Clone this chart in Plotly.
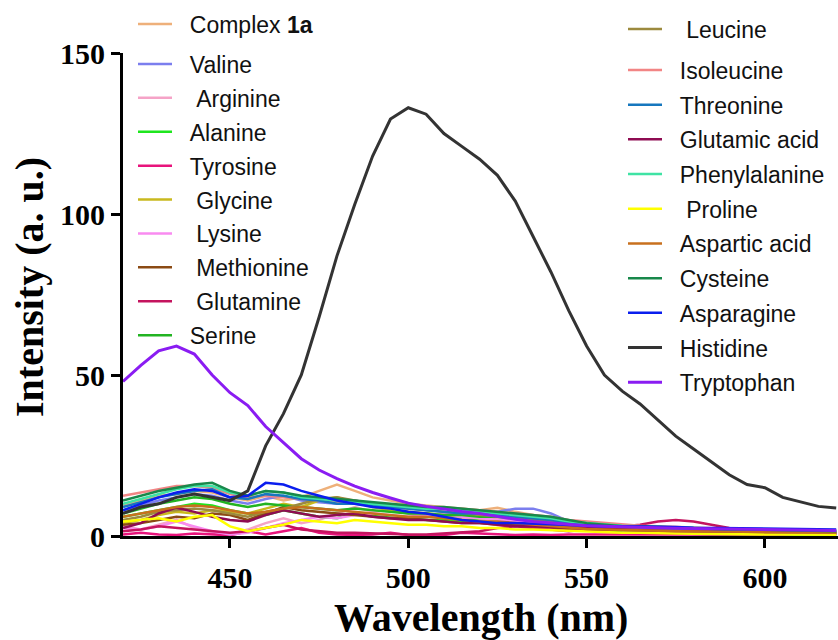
import plotly.graph_objects as go

wavelength = [420, 425, 430, 435, 440, 445, 450, 455, 460, 465, 470, 475, 480, 485, 490, 495, 500,
              505, 510, 515, 520, 525, 530, 535, 540, 545, 550, 555, 560, 565, 570, 575, 580, 585,
              590, 595, 600, 605, 610, 615, 620]

complex_1a = [9.5, 11, 12.5, 13, 14, 13.5, 12, 11, 12.5, 11, 12, 14, 16, 14, 12, 11, 10, 9.5, 9, 8.5, 8,
              8.8, 7.5, 6.5, 5.5, 4.5, 3.5, 3, 2.8, 2.5, 2.6, 2.4, 2, 1.8, 1.6, 1.5, 1.5, 1.4, 1.3, 1.2, 1.2]
valine = [8, 9.5, 11, 12, 13, 12.5, 11, 10, 11.5, 12.5, 11, 10.5, 10, 11, 10, 9.5, 9, 8.5, 8.5, 8, 8,
          7.5, 8.5, 8.5, 7, 4.5, 3.5, 3, 3, 2.5, 2.5, 2.5, 2.2, 2, 1.8, 1.7, 1.6, 1.5, 1.5, 1.4, 1.4]
arginine = [3, 2, 3.5, 5, 2.5, 1, 0.5, 2, 4, 5.5, 4, 5, 7, 9, 7.5, 8, 7, 6.5, 6, 5.5, 5, 4.5, 4, 3.5,
            3, 2.5, 2.2, 2, 1.8, 1.5, 1.5, 1.2, 1, 0.8, 0.8, 0.6, 0.5, 0.5, 0.4, 0.4, 0.3]
alanine = [6, 7, 8, 9, 10, 9.5, 8, 7, 6.5, 8, 7, 6, 5.5, 7, 6.5, 6, 5.5, 5, 5, 4.5, 5.5, 6, 5.5, 5.5,
           5, 4, 2.5, 1.5, 1, 0.8, 1, 0.8, 0.5, 0.5, 0.4, 0.4, 0.3, 0.3, 0.3, 0.3, 0.3]
tyrosine = [0.5, 1, 0.5, 0.3, 0.8, 0.5, 0.2, 1.5, 0.5, 1.5, 2.5, 1, 0.5, 0.3, 0.5, 1, 0.3, 0.2, 0.3, 1,
            0.8, 0.5, 0.3, 0.5, 0.3, 0.5, 0.5, 0.3, 0.5, 0.5, 0.3, 0.3, 0.5, 0.3, 0.3, 0.3, 0.3, 0.5,
            0.8, 1, 0.5]
glycine = [4, 5, 6.5, 7.5, 7, 8, 7.5, 7, 8.5, 10, 9, 11, 12, 10.5, 9, 8, 7.5, 7, 6.5, 6, 5.5, 5, 4.5,
           4, 3.5, 3, 2.5, 2.2, 2, 1.8, 1.6, 1.5, 1.4, 1.3, 1.2, 1.1, 1, 1, 0.9, 0.9, 0.8]
lysine = [2.5, 2, 3, 4.5, 3, 1.5, 0.5, 1, 2.5, 4, 5, 6, 5.5, 6.5, 7, 6.5, 6, 6.5, 7, 6, 5.5, 5, 4.5, 4,
          3.5, 3, 2.5, 2.2, 2, 1.8, 1.6, 1.4, 1.3, 1.2, 1.1, 1, 1, 0.9, 0.9, 0.8, 0.8]
methionine = [3.5, 4, 5, 6, 5.5, 7, 6.5, 5, 7, 9, 8, 7.5, 7, 6.5, 6, 5.5, 5.5, 5, 4.5, 4, 4, 3.5, 3.5,
              3, 2.5, 2.2, 2, 2, 1.8, 1.6, 1.5, 1.4, 1.3, 1.2, 1.1, 1, 1, 1, 0.9, 0.9, 0.8]
glutamine = [1.5, 2, 3, 2.5, 2, 1.5, 1, 1.5, 2.5, 3.5, 2, 1.5, 1, 1, 0.8, 0.5, 0.5, 0.5, 0.8, 1, 1.5,
             2.5, 3, 2.5, 2, 1.5, 2, 2.5, 3, 3.5, 4.5, 5, 4.5, 3.5, 2.5, 2, 1.5, 1.2, 1, 1, 0.8]
serine = [7, 8.5, 10, 11, 12, 11.5, 10, 9, 10, 9.5, 9, 8.5, 8, 8.5, 8, 7.5, 7, 7, 6.5, 6.5, 6, 6, 5.5,
          5, 4.5, 3.5, 3, 2.5, 2.5, 2.2, 2, 2, 1.8, 1.6, 1.5, 1.5, 1.4, 1.3, 1.3, 1.2, 1.2]
leucine = [5, 6, 7.5, 8, 8.5, 8, 7, 6, 7.5, 8.5, 10, 11.5, 12, 11, 10, 9, 8.5, 8, 7.5, 7, 6.5, 6, 5.5,
           5, 4.5, 4, 3.5, 3, 2.5, 2.2, 2, 1.8, 1.6, 1.5, 1.4, 1.3, 1.2, 1.1, 1, 1, 1]
isoleucine = [12.5, 13.5, 14.5, 15.5, 15.5, 15, 13, 12, 12.5, 12, 11.5, 11, 10.5, 10, 10, 9.5, 9, 9,
              8.5, 8.5, 8, 7.5, 7, 6.5, 6, 5, 4.5, 4, 3.5, 3.2, 3, 2.8, 2.5, 2.3, 2.2, 2, 2, 1.8,
              1.8, 1.7, 1.6]
threonine = [9, 10.5, 12, 13, 14, 14.5, 12, 11.5, 13, 12.5, 11.5, 11, 10, 10, 9.5, 9, 8.5, 8, 7.5, 7,
             7, 6.5, 6, 5.5, 5, 4, 3.5, 3, 3, 2.8, 2.5, 2.3, 2.2, 2, 1.9, 1.8, 1.7, 1.6, 1.5, 1.5, 1.4]
glutamic_acid = [2.5, 4, 7, 8.8, 7.5, 6, 5, 4.5, 6.5, 8, 7, 6, 6.5, 7, 6, 5.5, 5, 5, 4.5, 4, 4, 3.5,
                 3, 3, 2.8, 2.5, 2.3, 2, 2, 1.8, 1.6, 1.5, 1.5, 1.4, 1.3, 1.2, 1.2, 1.1, 1.1, 1, 1]
phenylalanine = [10, 11.5, 13, 14.5, 15.5, 15.5, 13.5, 12.5, 14, 13.5, 12, 11.5, 11, 10.5, 10, 9.5, 9,
                 8.5, 8.5, 8, 7.5, 7, 6.5, 6, 5.5, 4.5, 4, 3.5, 3.2, 3, 2.8, 2.6, 2.4, 2.2, 2.1, 2,
                 1.9, 1.8, 1.7, 1.6, 1.6]
proline = [4.5, 5, 5.5, 4.5, 6, 6.5, 3, 1.5, 2.5, 3.5, 5, 4.5, 4, 5, 4.5, 4, 3.5, 3.5, 3, 3, 2.5, 2.5,
           2, 2, 1.8, 1.5, 1.5, 1.2, 1, 1, 0.8, 0.8, 0.7, 0.6, 0.6, 0.5, 0.5, 0.5, 0.4, 0.4, 0.4]
aspartic_acid = [6, 7, 8, 9, 9.5, 9, 8, 7, 7.5, 8.5, 9, 8.5, 8, 7.5, 7, 6.5, 6, 6, 5.5, 5, 4.5, 4.5,
                 4, 3.5, 3, 2.5, 2.2, 2, 1.8, 1.8, 1.6, 1.5, 1.5, 1.4, 1.3, 1.3, 1.2, 1.2, 1.1, 1.1, 1]
cysteine = [11, 12.5, 14, 15, 16, 16.5, 14, 12.5, 14, 13.5, 12.5, 12, 11.5, 11, 10.5, 10, 9.5, 9, 9,
            8.5, 8, 7.5, 7, 6.5, 6, 5, 4, 3.5, 3, 3, 2.8, 2.5, 2.3, 2.2, 2, 2, 1.9, 1.8, 1.7, 1.6, 1.5]
asparagine = [8, 10, 12, 13.5, 14.5, 14, 12, 12.5, 16.5, 16, 14, 12.5, 11, 10, 9, 8.5, 7.5, 7, 6, 5,
              4.5, 4, 4, 3.8, 3.5, 3.5, 3.2, 3, 3, 3, 2.8, 2.8, 2.6, 2.5, 2.4, 2.3, 2.2, 2.1, 2, 2, 2]
histidine = [7, 9, 10, 12, 13, 12, 11, 14, 28, 38, 50, 68, 87, 103, 118, 129.5, 133, 131, 125, 121,
             117, 112, 104, 93, 82, 70, 59, 50, 45, 41, 36, 31, 27, 23, 19, 16, 15, 12, 10.5, 9.2, 8.7]
tryptophan = [48, 53, 57.5, 59, 56.5, 50, 44.5, 40.5, 34, 29, 24, 20.5, 17.8, 15.5, 13.5, 11.8, 10.2,
              9.2, 8.3, 7.6, 7, 6, 5.2, 4.5, 4, 3.5, 3.2, 3, 2.8, 2.6, 2.5, 2.4, 2.3, 2.2, 2.1, 2, 2,
              1.9, 1.8, 1.8, 1.7]

NB = "\u00a0"
P = NB * 2  # gap between legend line and label

left_names = ["Valine", NB + "Arginine", "Alanine", "Tyrosine", NB + "Glycine", NB + "Lysine",
              NB + "Methionine", NB + "Glutamine", "Serine"]
left_data = [valine, arginine, alanine, tyrosine, glycine, lysine, methionine, glutamine, serine]
left_colors = ["#7B7EEE", "#F5A3C7", "#1EE61E", "#E8147C", "#C9B91E", "#F98BF0", "#8B4A14",
               "#C4145E", "#22B422"]

right_names = ["Isoleucine", "Threonine", "Glutamic acid", "Phenylalanine",
               NB + "Proline", "Aspartic acid", "Cysteine", "Asparagine", "Histidine", "Tryptophan"]
right_data = [isoleucine, threonine, glutamic_acid, phenylalanine, proline, aspartic_acid,
              cysteine, asparagine, histidine, tryptophan]
right_colors = ["#F28585", "#1677BE", "#8E0C52", "#3FE3A4", "#FFFF00", "#C8701E",
                "#18884A", "#0A1EEE", "#333333", "#8A1CF2"]

fig = go.Figure()

# Complex 1a (own legend) and Leucine (own legend) head the two columns
fig.add_trace(go.Scatter(x=wavelength, y=complex_1a, mode="lines", name=P + "Complex <b>1a</b>",
                         line=dict(color="#EEB07A", width=2.5), legend="legend",
                         legendgroup="g0", showlegend=True))
for i, (n, d, c) in enumerate(zip(left_names, left_data, left_colors)):
    fig.add_trace(go.Scatter(x=wavelength, y=d, mode="lines", name=P + n,
                             line=dict(color=c, width=2.5), legend="legend2",
                             legendgroup="L%d" % i, showlegend=True))
fig.add_trace(go.Scatter(x=wavelength, y=leucine, mode="lines", name=P + NB + "Leucine",
                         line=dict(color="#9C8A3E", width=2.5), legend="legend4",
                         legendgroup="R_leu", showlegend=True))
for i, (n, d, c) in enumerate(zip(right_names, right_data, right_colors)):
    w = 3 if n in ("Histidine", "Tryptophan") else 2.5
    fig.add_trace(go.Scatter(x=wavelength, y=d, mode="lines", name=P + n,
                             line=dict(color=c, width=w), legend="legend3",
                             legendgroup="R%d" % i, showlegend=True))

leg_font = dict(family="Liberation Sans, Arial, sans-serif", size=23, color="#111111")
common_leg = dict(font=leg_font, bgcolor="rgba(0,0,0,0)", borderwidth=0, itemwidth=34,
                  xref="container", yref="container", xanchor="left", yanchor="top",
                  itemclick=False, itemdoubleclick=False, maxheight=640, visible=True)

axis_font = dict(family="Liberation Serif, Times New Roman, serif", size=30, color="black",
                 weight="bold")
title_font = dict(family="Liberation Serif, Times New Roman, serif", size=40, color="black",
                  weight="bold")

fig.update_layout(
    width=838, height=640,
    showlegend=True,
    margin=dict(l=123, r=0, t=53, b=104, autoexpand=False),
    paper_bgcolor="white", plot_bgcolor="white",
    legend=dict(**common_leg, x=133 / 838, y=1 - 2.5 / 640),
    legend2=dict(**common_leg, x=133 / 838, y=1 - 42.5 / 640, tracegroupgap=1),
    legend4=dict(**common_leg, x=623 / 838, y=1 - 7.5 / 640),
    legend3=dict(**common_leg, x=623 / 838, y=1 - 48.5 / 640, tracegroupgap=1.8),
    xaxis=dict(range=[420, 620.5], tickvals=[450, 500, 550, 600], showgrid=False,
               zeroline=False, showline=True, linecolor="black", linewidth=3,
               ticks="outside", ticklen=9, tickwidth=3, tickcolor="black",
               tickfont=axis_font, ticklabelstandoff=4),
    yaxis=dict(range=[0, 150], tickvals=[0, 50, 100, 150], showgrid=False, zeroline=False,
               showline=True, linecolor="black", linewidth=3, ticks="outside", ticklen=9,
               tickwidth=3, tickcolor="black", tickfont=axis_font),
    annotations=[
        dict(text="Wavelength (nm)", xref="paper", yref="paper", x=0.5, y=(536 - 617) / 483,
             xanchor="center", yanchor="middle", showarrow=False, font=title_font),
        dict(text="Intensity (a. u.)", xref="paper", yref="paper", x=-0.1315,
             y=(536 - 287) / 483, xanchor="center", yanchor="middle", showarrow=False,
             textangle=-90, font=title_font),
    ],
)

fig.write_html("out.html")
